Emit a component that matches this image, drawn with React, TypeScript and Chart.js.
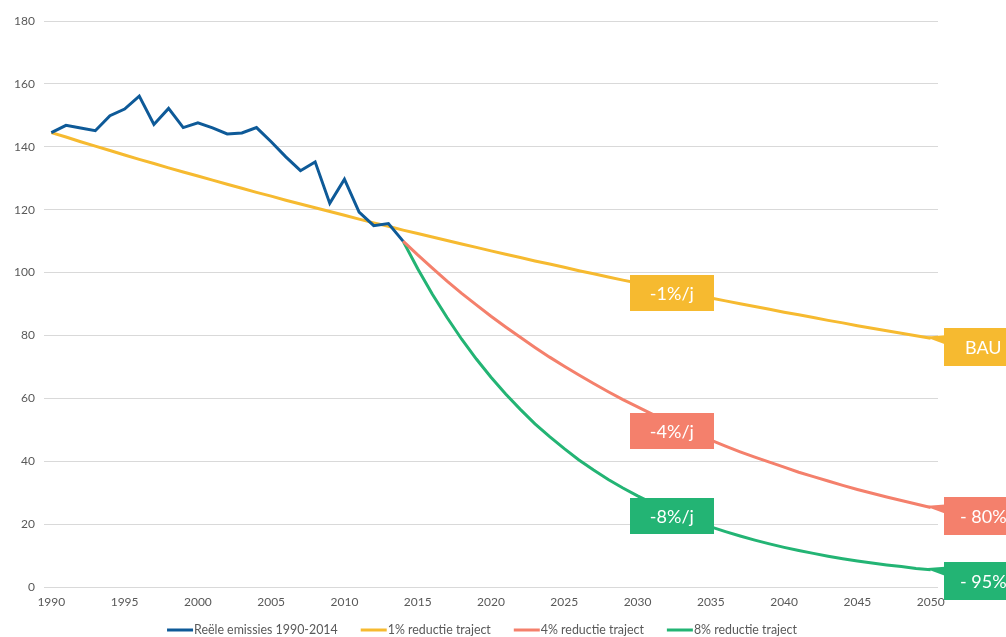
import React, { useEffect, useRef } from 'react';
import { Chart, registerables } from 'chart.js';

Chart.register(...registerables);

const years = [
  '1990', '1991', '1992', '1993', '1994', '1995', '1996', '1997', '1998', '1999',
  '2000', '2001', '2002', '2003', '2004', '2005', '2006', '2007', '2008', '2009',
  '2010', '2011', '2012', '2013', '2014', '2015', '2016', '2017', '2018', '2019',
  '2020', '2021', '2022', '2023', '2024', '2025', '2026', '2027', '2028', '2029',
  '2030', '2031', '2032', '2033', '2034', '2035', '2036', '2037', '2038', '2039',
  '2040', '2041', '2042', '2043', '2044', '2045', '2046', '2047', '2048', '2049',
  '2050',
];

// Reële emissies 1990-2014
const realEmissions = [
  144.5, 146.8, 146.0, 145.1, 149.9, 152.0, 156.1, 147.1, 152.2, 146.1,
  147.6, 146.0, 144.1, 144.4, 146.1, 141.6, 136.8, 132.4, 135.2, 122.0,
  129.7, 119.2, 114.9, 115.6, 110.0,
];

// 1% reductie traject 1990-2050
const reduction1 = [
  144.5, 143.1, 141.6, 140.2, 138.8, 137.4, 136.0, 134.7, 133.3, 132.0,
  130.7, 129.4, 128.1, 126.8, 125.5, 124.3, 123.0, 121.8, 120.6, 119.4,
  118.2, 117.0, 115.8, 114.7, 113.5, 112.4, 111.3, 110.2, 109.1, 108.0,
  106.9, 105.8, 104.8, 103.7, 102.7, 101.7, 100.6, 99.6, 98.6, 97.6,
  96.7, 95.7, 94.7, 93.8, 92.9, 91.9, 91.0, 90.1, 89.2, 88.3,
  87.4, 86.6, 85.7, 84.8, 84.0, 83.1, 82.3, 81.5, 80.7, 79.9,
  79.1,
];

// 4% reductie traject 2014-2050
const reduction4 = [
  110.0, 105.6, 101.4, 97.3, 93.4, 89.7, 86.1, 82.7, 79.4, 76.2,
  73.1, 70.2, 67.4, 64.7, 62.1, 59.6, 57.3, 55.0, 52.8, 50.7,
  48.6, 46.7, 44.8, 43.0, 41.3, 39.7, 38.1, 36.5, 35.1, 33.7,
  32.3, 31.0, 29.8, 28.6, 27.5, 26.4, 25.3,
];

// 8% reductie traject 2014-2050
const reduction8 = [
  110.0, 101.2, 93.1, 85.7, 78.8, 72.5, 66.7, 61.4, 56.5, 51.9,
  47.8, 44.0, 40.4, 37.2, 34.2, 31.5, 29.0, 26.7, 24.5, 22.6,
  20.8, 19.1, 17.6, 16.2, 14.9, 13.7, 12.6, 11.6, 10.7, 9.8,
  9.0, 8.3, 7.6, 7.0, 6.5, 5.9, 5.5,
];

const seriesNames = [
  'Reële emissies 1990-2014',
  '1% reductie traject',
  '4% reductie traject',
  '8% reductie traject',
];
const seriesColors = ['#0E5A98', '#F6BA30', '#F4806C', '#23B474'];

const yTicks = [0, 20, 40, 60, 80, 100, 120, 140, 160, 180];

const midLabelSeries = [1, 2, 3];
const midLabelYear = '2032';
const midLabelTexts = ['-1%/j', '-4%/j', '-8%/j'];
const endLabelSeries = [1, 2, 3];
const endLabelYear = '2050';
const endLabelTexts = ['BAU', '- 80%', '- 95%'];

const startIdx = years.indexOf('2014');

const FONT = 'Lato, "Open Sans", sans-serif';

const labelPlugin = {
  id: 'boxLabels',
  afterDatasetsDraw(chart: any) {
    const ctx = chart.ctx;
    const xs = chart.scales.x;
    const ys = chart.scales.y;
    ctx.save();
    ctx.font = `18px ${FONT}`;
    ctx.textAlign = 'center';
    ctx.textBaseline = 'middle';
    const midDy = [4, 10, 6];
    midLabelSeries.forEach((s, i) => {
      const idx = years.indexOf(midLabelYear);
      const ds = chart.data.datasets[s];
      const px = xs.getPixelForValue(idx);
      const py = ys.getPixelForValue(ds.data[idx]);
      const cx = px + 5;
      const cy = py + midDy[i];
      ctx.fillStyle = ds.borderColor;
      ctx.fillRect(Math.round(cx - 42), Math.round(cy - 18), 84, 36);
      ctx.fillStyle = '#ffffff';
      ctx.fillText(midLabelTexts[i], cx, cy + 1);
    });
    const endDy = [-10, -10, -8];
    endLabelSeries.forEach((s, i) => {
      const idx = years.indexOf(endLabelYear);
      const ds = chart.data.datasets[s];
      const px = xs.getPixelForValue(idx);
      const py = ys.getPixelForValue(ds.data[idx]);
      const left = Math.round(px + 13.5);
      const top = Math.round(py + endDy[i]);
      ctx.fillStyle = ds.borderColor;
      ctx.beginPath();
      ctx.moveTo(px - 6, py - 1.5);
      ctx.lineTo(left + 1, py - 3);
      ctx.lineTo(left + 1, py + 6);
      ctx.closePath();
      ctx.fill();
      ctx.fillRect(left, top, 78, 38);
      ctx.fillStyle = '#ffffff';
      ctx.textAlign = 'left';
      const tx = i === 0 ? left + 21 : left + 16;
      ctx.fillText(endLabelTexts[i], tx, top + 19 + 1);
    });
    ctx.restore();
  },
};

const legendPlugin = {
  id: 'customLegend',
  afterDraw(chart: any) {
    const ctx = chart.ctx;
    ctx.save();
    ctx.font = `12.4px ${FONT}`;
    ctx.textBaseline = 'middle';
    ctx.textAlign = 'left';
    const lineLen = 26;
    const gap = 23;
    const widths = chart.data.datasets.map((d: any) => lineLen + 1 + ctx.measureText(d.label).width);
    const total = widths.reduce((a: number, b: number) => a + b, 0) + gap * (widths.length - 1);
    let x = 482 - total / 2;
    const y = 630;
    chart.data.datasets.forEach((d: any, i: number) => {
      ctx.strokeStyle = d.borderColor;
      ctx.lineWidth = 3;
      ctx.beginPath();
      ctx.moveTo(x, y);
      ctx.lineTo(x + lineLen, y);
      ctx.stroke();
      ctx.fillStyle = '#595959';
      ctx.fillText(d.label, x + lineLen + 1, y);
      x += widths[i] + gap;
    });
    ctx.restore();
  },
};

export default function App() {
  const ref = useRef<HTMLCanvasElement | null>(null);

  useEffect(() => {
    if (!ref.current) return;
    const pad = (n: number) => Array(n).fill(null);
    const chart = new Chart(ref.current, {
      type: 'line',
      data: {
        labels: years,
        datasets: [
          {
            label: seriesNames[0],
            data: [...realEmissions, ...pad(years.length - realEmissions.length)],
            borderColor: seriesColors[0],
            backgroundColor: seriesColors[0],
            borderWidth: 3,
            pointRadius: 0,
            tension: 0,
            spanGaps: false,
          },
          {
            label: seriesNames[1],
            data: reduction1,
            borderColor: seriesColors[1],
            backgroundColor: seriesColors[1],
            borderWidth: 3,
            pointRadius: 0,
            tension: 0,
          },
          {
            label: seriesNames[2],
            data: [...pad(startIdx), ...reduction4],
            borderColor: seriesColors[2],
            backgroundColor: seriesColors[2],
            borderWidth: 3,
            pointRadius: 0,
            tension: 0,
          },
          {
            label: seriesNames[3],
            data: [...pad(startIdx), ...reduction8],
            borderColor: seriesColors[3],
            backgroundColor: seriesColors[3],
            borderWidth: 3,
            pointRadius: 0,
            tension: 0,
          },
        ],
      },
      options: {
        responsive: false,
        animation: false,
        layout: { padding: { top: 21, right: 68, left: 0, bottom: 0 } },
        plugins: {
          legend: { display: false },
          tooltip: { enabled: false },
        },
        scales: {
          x: {
            type: 'category',
            offset: true,
            grid: { display: false, drawTicks: false },
            border: { display: false },
            ticks: {
              autoSkip: false,
              maxRotation: 0,
              minRotation: 0,
              padding: 8,
              color: '#595959',
              font: { family: FONT, size: 12 },
              callback: (_v: any, i: number) => (Number(years[i]) % 5 === 0 ? years[i] : ''),
            },
            afterFit: (s: any) => {
              s.height = 50;
            },
          },
          y: {
            min: yTicks[0],
            max: yTicks[yTicks.length - 1],
            ticks: {
              stepSize: 20,
              padding: 9,
              color: '#595959',
              font: { family: FONT, size: 12 },
            },
            grid: { color: '#D9D9D9', lineWidth: 1, drawTicks: false },
            border: { display: false },
            afterFit: (s: any) => {
              s.width = 44;
            },
          },
        },
      },
      plugins: [labelPlugin, legendPlugin],
    });
    return () => chart.destroy();
  }, []);

  return (
    <canvas
      ref={ref}
      width={1006}
      height={637}
      style={{ position: 'absolute', left: 0, top: 0, display: 'block', background: '#ffffff' }}
    />
  );
}
